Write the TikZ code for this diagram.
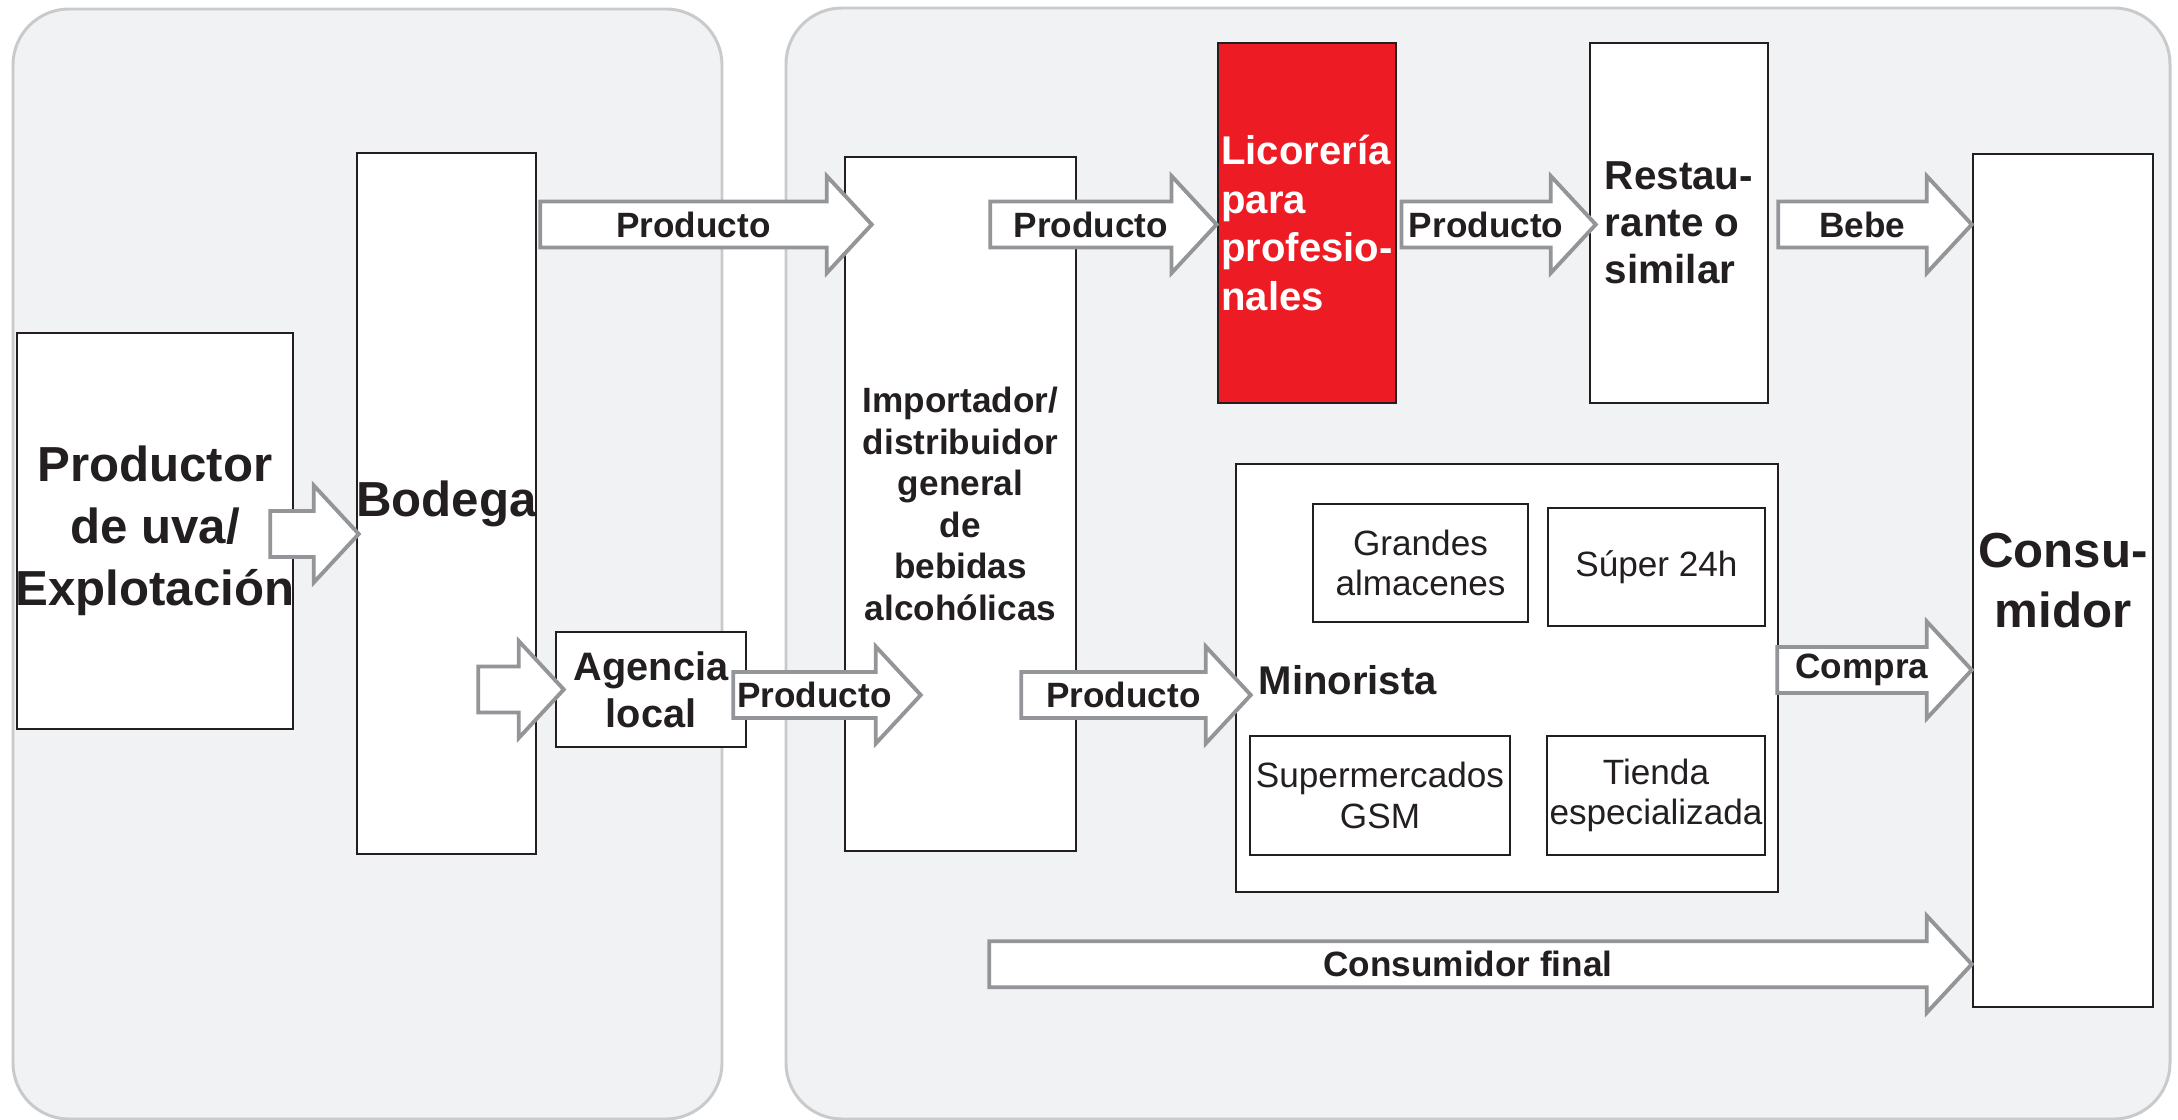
\documentclass[tikz,border=0pt]{standalone}
\usepackage{fontspec}
\setmainfont{Liberation Sans}
\usepackage{xcolor}
\usepackage{tikz}
\usetikzlibrary{calc}
\definecolor{panelfill}{HTML}{F1F2F4}
\definecolor{panelline}{HTML}{C9CACC}
\definecolor{arrowline}{HTML}{939598}
\definecolor{boxline}{HTML}{231F20}
\definecolor{rojo}{HTML}{ED1C24}
\newcommand{\fSh}{2.3mm}  % half height of the shaft
\newcommand{\fHh}{4.85mm} % half height of the head
\newcommand{\fHl}{4.5mm}  % head length
% block arrow: name, tail, tip, label
\newcommand{\flecha}[4]{%
  \path[flecha] let \p1=(#2), \p2=(#3) in
    (\x1,{\y1+\fSh}) -- ({\x2-\fHl},{\y1+\fSh}) -- ({\x2-\fHl},{\y1+\fHh})
    -- (\x2,\y1) -- ({\x2-\fHl},{\y1-\fHh}) -- ({\x2-\fHl},{\y1-\fSh})
    -- (\x1,{\y1-\fSh}) -- cycle
    node[flechatexto] (#1) at ({(\x1+\x2-\fHl)/2+1mm},\y1) {#4};}

\begin{document}
\begin{tikzpicture}[
    panel/.style={draw=panelline, line width=0.85pt, fill=panelfill,
                  rounded corners=5.6mm},
    caja/.style={draw=boxline, line width=0.7pt, fill=white, inner sep=1pt,
                 text=boxline, align=center},
    subcaja/.style={caja, font=\fontsize{10}{11.5}\selectfont},
    flecha/.style={draw=arrowline, line width=1.1pt, fill=white},
    flechatexto/.style={font=\fontsize{10}{12}\selectfont\bfseries,
                        text=boxline, inner sep=0pt}]
  \useasboundingbox (0,0) rectangle (21.78,-11.2);

  % the two areas
  \draw[panel] (0.13,-0.09) rectangle (7.22,-11.19);
  \draw[panel] (7.86,-0.08) rectangle (21.70,-11.19);

  % boxes
  \node[caja, minimum width=2.76cm, minimum height=3.96cm, inner xsep=-2mm,
        font=\fontsize{14}{17.7}\selectfont\bfseries]
    (prod) at (1.55,-5.31) {Productor\\de uva/\\Explotación};
  \node[caja, minimum width=1.79cm, minimum height=7.01cm, inner xsep=-1.5mm,
        font=\fontsize{14}{17}\selectfont\bfseries]
    (bodega) at (4.465,-5.035) {Bodega};
  \node[caja, minimum width=1.90cm, minimum height=1.15cm,
        font=\fontsize{11.3}{13.4}\selectfont\bfseries]
    (agencia) at (6.51,-6.895) {Agencia\\local};
  \node[caja, minimum width=2.31cm, minimum height=6.94cm,
        font=\fontsize{10}{11.8}\selectfont\bfseries]
    (importer) at (9.605,-5.04)
    {Importador/\\distribuidor\\general\\de\\bebidas\\alcohólicas};
  \node[caja, fill=rojo, text=white, align=left, minimum width=1.78cm,
        minimum height=3.60cm, font=\fontsize{11.4}{13.8}\selectfont\bfseries]
    (licoreria) at (13.07,-2.23) {Licorería\\para\\profesio-\\nales};
  \node[caja, align=left, minimum width=1.78cm, minimum height=3.60cm,
        font=\fontsize{11.5}{13.4}\selectfont\bfseries]
    (restaurante) at (16.79,-2.23) {Restau-\\rante o\\similar};
  \node[caja, minimum width=5.42cm, minimum height=4.28cm]
    (minorista) at (15.07,-6.78) {};
  \node[text=boxline, anchor=west, inner sep=0pt,
        font=\fontsize{11.4}{13.4}\selectfont\bfseries]
    (minlabel) at (12.58,-6.80) {Minorista};
  \node[subcaja, minimum width=2.15cm, minimum height=1.18cm]
    (grandes) at (14.205,-5.63) {Grandes\\almacenes};
  \node[subcaja, minimum width=2.17cm, minimum height=1.18cm]
    (super) at (16.565,-5.67) {Súper 24h};
  \node[subcaja, minimum width=2.60cm, minimum height=1.19cm]
    (gsm) at (13.80,-7.955) {Supermercados\\GSM};
  \node[subcaja, minimum width=2.18cm, minimum height=1.19cm, inner sep=0pt]
    (tienda) at (16.56,-7.955) {Tienda\\especializada};
  \node[caja, minimum width=1.80cm, minimum height=8.53cm,
        font=\fontsize{14}{17}\selectfont\bfseries]
    (consumidor) at (20.63,-5.805) {Consu-\\midor};

  % arrows
  \flecha{f1}{$(prod.east)+(-0.24,-0.03)$}{$(bodega.west)+(0.03,0)$}{}
  \flecha{f2}{$(bodega.east |- licoreria.west)+(0.03,-0.015)$}{$(importer.west)+(0.28,0)$}{Producto}
  \flecha{f3}{$(importer.east |- licoreria.west)+(-0.87,-0.015)$}{licoreria.west}{Producto}
  \flecha{f4}{$(licoreria.east)+(0.04,-0.015)$}{$(restaurante.west)+(0.07,0)$}{Producto}
  \flecha{f5}{$(restaurante.east)+(0.09,-0.015)$}{consumidor.west}{Bebe}
  \flecha{f6}{$(agencia.west -| bodega.east)+(-0.59,0)$}{$(agencia.west)+(0.09,0)$}{}
  \flecha{f7}{$(agencia.east)+(-0.14,-0.055)$}{$(importer.west)+(0.77,0)$}{Producto}
  \flecha{f8}{$(agencia.east -| importer.east)+(-0.56,-0.055)$}{$(minorista.west)+(0.16,0)$}{Producto}
  \flecha{f9}{$(minorista.east)+(-0.02,0.08)$}{consumidor.west}{Compra}
  \flecha{f10}{$(importer.east |- minorista.south)+(-0.88,-0.71)$}{consumidor.west}{Consumidor final}
\end{tikzpicture}
\end{document}
